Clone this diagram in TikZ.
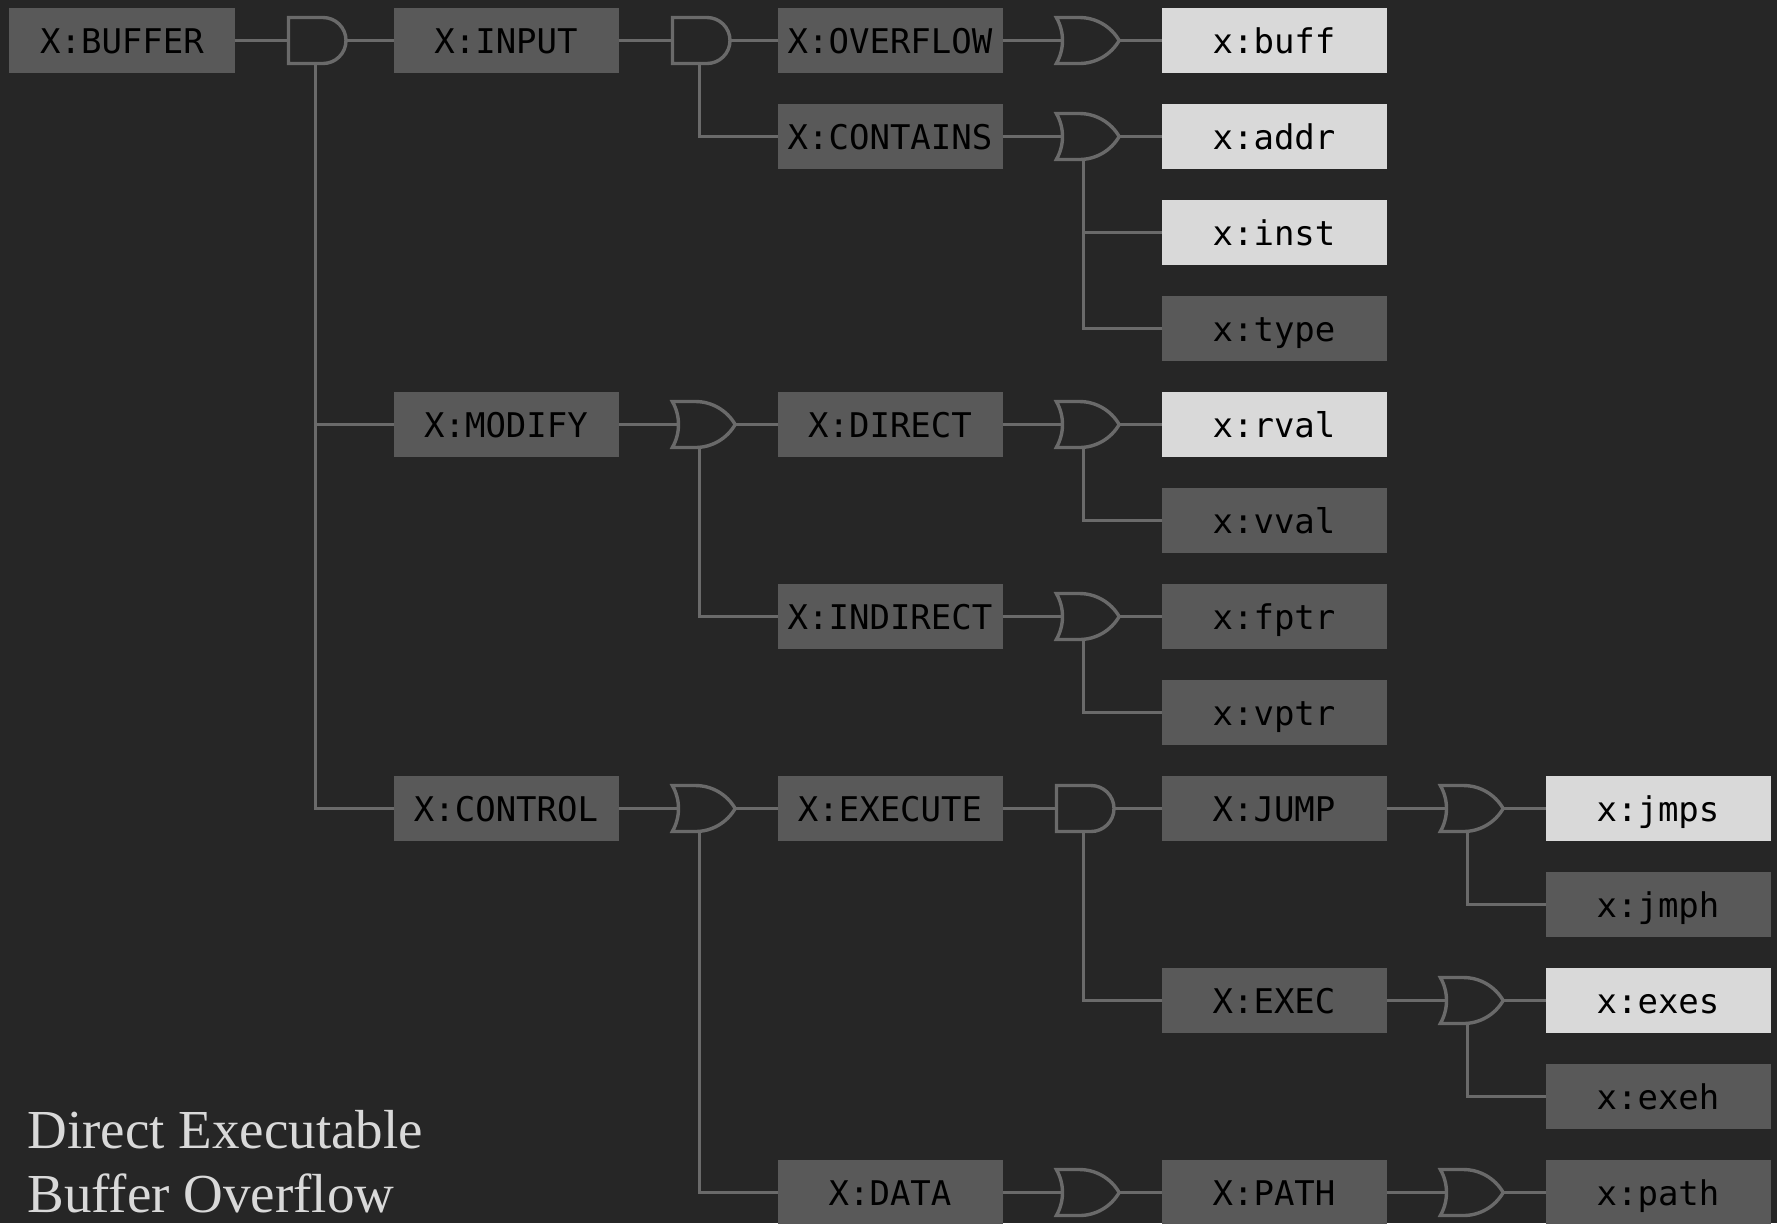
\documentclass[tikz,border=0pt]{standalone}
\usepackage{fontspec}
\setmainfont{Liberation Serif}
\newfontfamily\boxfont{DejaVu Sans Mono}
\usepackage{tikz}
\usetikzlibrary{positioning,shapes.gates.logic.US}
\definecolor{PageDark}{HTML}{262626}
\definecolor{BoxDark}{HTML}{595959}
\definecolor{BoxLight}{HTML}{D9D9D9}
\definecolor{WireGrey}{HTML}{6A6A6A}

\begin{document}
\begin{tikzpicture}[x=1pt,y=1pt,node distance=15.5pt and 27pt]
  \tikzstyle{term}=[fill=BoxDark,text=black,minimum width=112.5pt,minimum height=32.5pt,
    text height=16pt,text depth=3.2pt,inner sep=0pt,outer sep=0pt,
    font=\boxfont\fontsize{17}{17}\selectfont]
  \tikzstyle{leaf}=[term,fill=BoxLight]
  \tikzstyle{gate}=[draw=WireGrey,line width=1.7pt,logic gate inputs=nn,
    minimum height=23pt,inner sep=0pt,outer sep=0pt]
  \tikzstyle{allof}=[gate,and gate US,minimum width=27pt]
  \tikzstyle{anyof}=[gate,or gate US,minimum width=23.5pt]
  \tikzstyle{wire}=[draw=WireGrey,line width=1.6pt]
  % page
  \fill[PageDark] (-61,20.25) rectangle (827.5,-591.25);
  \useasboundingbox (-61,20.25) rectangle (827.5,-591.25);
  % top row
  \node[term] (buffer) {X:BUFFER};
  \node[allof,right=27pt of buffer] (andbuf) {};
  \node[term,right=192pt-112.5pt of buffer] (input) {X:INPUT};
  \node[allof,right=27pt of input] (andinp) {};
  \node[term,right=192pt-112.5pt of input] (overflow) {X:OVERFLOW};
  \node[anyof,right=30pt of overflow] (orover) {};
  \node[leaf,right=192pt-112.5pt of overflow] (buff) {x:buff};
  % third column of boxes, top to bottom
  \node[leaf,below=of buff] (addr) {x:addr};
  \node[leaf,below=of addr] (inst) {x:inst};
  \node[term,below=of inst] (vtype) {x:type};
  \node[leaf,below=of vtype] (rval) {x:rval};
  \node[term,below=of rval] (vval) {x:vval};
  \node[term,below=of vval] (fptr) {x:fptr};
  \node[term,below=of fptr] (vptr) {x:vptr};
  \node[term,below=of vptr] (jump) {X:JUMP};
  \node[leaf,right=192pt-112.5pt of jump] (jmps) {x:jmps};
  \node[term,below=of jmps] (jmph) {x:jmph};
  \node[term,left=192pt-112.5pt of jmph,yshift=-48pt] (exec) {X:EXEC};
  \node[leaf,below=of jmph] (exes) {x:exes};
  \node[term,below=of exes] (exeh) {x:exeh};
  \node[term,below=of exeh] (xpath) {x:path};
  \node[term,left=192pt-112.5pt of xpath] (vpath) {X:PATH};
  % second column
  \node[term,left=192pt-112.5pt of addr] (contains) {X:CONTAINS};
  \node[term,left=192pt-112.5pt of rval] (direct) {X:DIRECT};
  \node[term,left=192pt-112.5pt of fptr] (indirect) {X:INDIRECT};
  \node[term,left=192pt-112.5pt of jump] (execute) {X:EXECUTE};
  \node[term,left=192pt-112.5pt of vpath] (vdata) {X:DATA};
  % first column
  \node[term,left=192pt-112.5pt of direct] (modify) {X:MODIFY};
  \node[term,left=192pt-112.5pt of execute] (control) {X:CONTROL};
  % gates
  \node[anyof,right=30pt of contains] (orcont) {};
  \node[anyof,right=30pt of modify] (ormod) {};
  \node[anyof,right=30pt of direct] (ordir) {};
  \node[anyof,right=30pt of indirect] (orind) {};
  \node[anyof,right=30pt of control] (orctl) {};
  \node[allof,right=27pt of execute] (andexe) {};
  \node[anyof,right=30pt of jump] (orjmp) {};
  \node[anyof,right=30pt of exec] (orexe) {};
  \node[anyof,right=30pt of vdata] (ordat) {};
  \node[anyof,right=30pt of vpath] (orpath) {};
  % wires through the gates
  \foreach \a/\g/\b in {buffer/andbuf/input,input/andinp/overflow,overflow/orover/buff,
      contains/orcont/addr,modify/ormod/direct,direct/ordir/rval,indirect/orind/fptr,
      control/orctl/execute,execute/andexe/jump,jump/orjmp/jmps,exec/orexe/exes,
      vdata/ordat/vpath,vpath/orpath/xpath}{
    \draw[wire] (\a.east)--(\g.west);
    \draw[wire] (\g.output)--(\b.west);
  }
  % wires dropping from a gate
  \foreach \g/\b in {andbuf/modify,andbuf/control,andinp/contains,orcont/inst,orcont/vtype,
      ormod/indirect,ordir/vval,orind/vptr,orctl/vdata,andexe/exec,orjmp/jmph,orexe/exeh}{
    \draw[wire] (\g.south)|-(\b.west);
  }
  % title
  \node[anchor=base west,text=BoxLight,align=left,inner sep=0pt,font=\fontsize{27.5}{32}\selectfont]
    (title) at (-47.5,-585.75) {Direct Executable\\Buffer Overflow};
\end{tikzpicture}
\end{document}
